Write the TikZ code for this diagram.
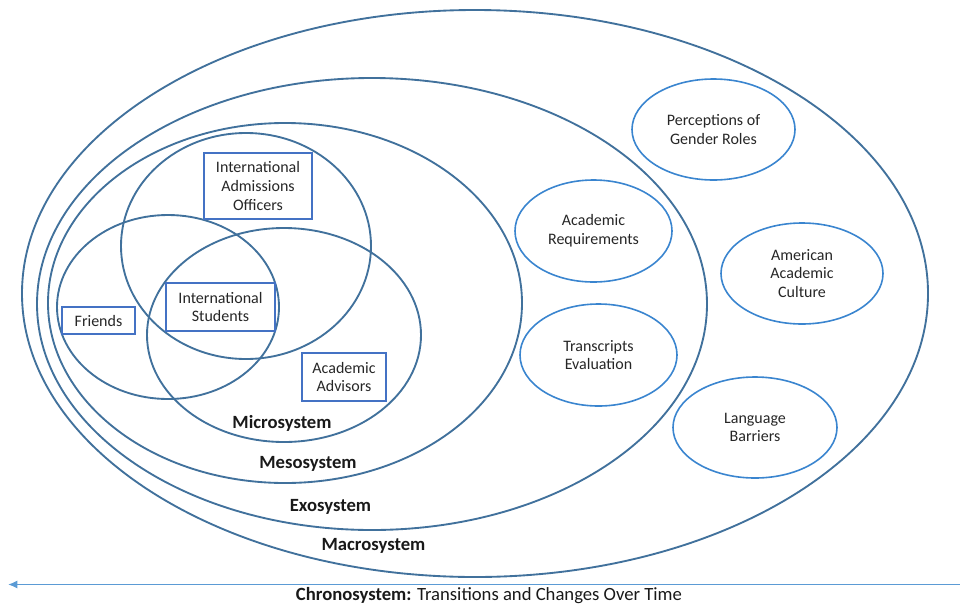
\documentclass[tikz,border=0pt]{standalone}
\usepackage{fontspec}
\setmainfont{Carlito}
\usepackage{tikz}
\usetikzlibrary{arrows.meta}
\definecolor{sysblue}{HTML}{41719C}
\definecolor{factblue}{HTML}{3A85CF}
\definecolor{boxblue}{HTML}{4472C4}
\definecolor{timeblue}{HTML}{5B9BD5}

\begin{document}
\begin{tikzpicture}[x=0.75pt,y=-0.75pt,
    sys/.style={draw=sysblue,line width=1.4pt},
    fact/.style={draw=factblue,line width=1.2pt},
    txt/.style={align=center,text=black!85,font=\fontsize{12}{14}\selectfont},
    agent/.style={txt,draw=boxblue,line width=1pt,inner sep=0pt},
    sysname/.style={anchor=base,text=black!90,font=\fontsize{14}{16}\selectfont\bfseries}]

  \useasboundingbox (0,0) rectangle (960,604);

  % Draw systems
  \draw[sys] (475,293.5) ellipse [x radius=453, y radius=283.5];
  \draw[sys] (372,304) ellipse [x radius=335, y radius=226];
  \draw[sys] (285,303) ellipse [x radius=237, y radius=180];

  % Venn of the microsystem
  \draw[sys] (168,307) ellipse [x radius=111, y radius=92];
  \draw[sys] (246,246) ellipse [x radius=125, y radius=113];
  \draw[sys] (284,335) ellipse [x radius=137, y radius=107];

  % Factors in exo- and macrosystem
  \draw[fact] (713.5,129.5) ellipse [x radius=81.5, y radius=50.5];
  \draw[fact] (593.5,231) ellipse [x radius=78.5, y radius=51];
  \draw[fact] (802,273.5) ellipse [x radius=81, y radius=50.5];
  \draw[fact] (598.5,355) ellipse [x radius=78.5, y radius=51];
  \draw[fact] (755,427.5) ellipse [x radius=82, y radius=50.5];

  \node[txt] (gender) at (713.5,129.5) {Perceptions of\\Gender Roles};
  \node[txt] (requirements) at (593.5,231) {Academic\\Requirements};
  \node[txt] (culture) at (802,273.5) {American\\Academic\\Culture};
  \node[txt] (transcripts) at (598.5,355) {Transcripts\\Evaluation};
  \node[txt] (language) at (755,427.5) {Language\\Barriers};

  % People
  \node[agent,minimum width=81pt,minimum height=49.5pt] (officers) at (258,186) {International\\Admissions\\Officers};
  \node[agent,minimum width=81.75pt,minimum height=36pt] (students) at (220.5,307) {International\\Students};
  \node[agent,minimum width=54.75pt,minimum height=20.25pt] (friends) at (98.5,320.5) {Friends};
  \node[agent,minimum width=63pt,minimum height=36pt] (advisors) at (344,377) {Academic\\Advisors};

  % System names
  \node[sysname] (micro) at (282,428) {Microsystem};
  \node[sysname] (meso) at (308,468) {Mesosystem};
  \node[sysname] (exo) at (330.5,511) {Exosystem};
  \node[sysname] (macro) at (373.5,550) {Macrosystem};

  % Time line
  \coordinate (past) at (8,584.5);
  \coordinate (future) at (969.5,584.5);
  \draw[timeblue,line width=1.1pt,{Latex[length=7pt,width=6pt]}-{Latex[length=7pt,width=6pt]}] (past) -- (future);
  \node[anchor=base,text=black!90,font=\fontsize{14}{16}\selectfont] (chrono) at (489,600) {\textbf{Chronosystem:} Transitions and Changes Over Time};

\end{tikzpicture}
\end{document}
